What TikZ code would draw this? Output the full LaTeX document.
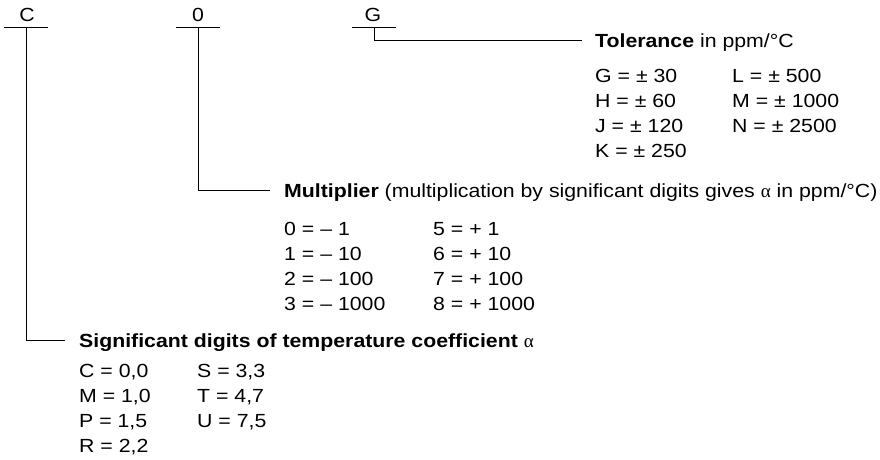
\documentclass[tikz,border=0pt]{standalone}
\usepackage{fontspec}
\setmainfont{Liberation Sans}[FakeStretch=1.12]
\newfontfamily\greekf{Liberation Serif}
\newcommand{\alphachar}{{\mdseries\greekf α}}
\begin{document}
\begin{tikzpicture}[x=1pt,y=-1pt,
  txt/.style={inner sep=0pt,anchor=base west,font=\fontsize{19}{25}\selectfont},
  toplabel/.style={inner sep=0pt,anchor=base,font=\fontsize{19}{25}\selectfont},
  bar/.style={line width=1pt},
  conn/.style={line width=1pt}]
\path[use as bounding box] (0,0) rectangle (880,459);

% top labels and bars
\node[toplabel] (lC) at (27,21) {C};
\node[toplabel] (l0) at (198,21) {0};
\node[toplabel] (lG) at (373,21) {G};
\draw[bar] (4,27) -- (48,27);
\draw[bar] (176,27) -- (220,27);
\draw[bar] (352,27) -- (396,27);
\coordinate (cC) at (26,27);
\coordinate (c0) at (198,27);
\coordinate (cG) at (374,27);

% Tolerance block
\node[txt] (tol) at (595,47) {\textbf{Tolerance} in ppm/°C};
\node[txt] (toltab) at (595,82) {\begin{tabular}[t]{@{}p{137pt}@{}l@{}}
G = ± 30 & L = ± 500\\
H = ± 60 & M = ± 1000\\
J = ± 120 & N = ± 2500\\
K = ± 250 &
\end{tabular}};

% Multiplier block
\node[txt] (mul) at (284,197) {\textbf{Multiplier} (multiplication by significant digits gives \alphachar{} in ppm/°C)};
\node[txt] (multab) at (284,235) {\begin{tabular}[t]{@{}p{149pt}@{}l@{}}
0 = – 1 & 5 = + 1\\
1 = – 10 & 6 = + 10\\
2 = – 100 & 7 = + 100\\
3 = – 1000 & 8 = + 1000
\end{tabular}};

% Significant digits block
\node[txt] (sig) at (79,347) {\textbf{Significant digits of temperature coefficient} \alphachar};
\node[txt] (sigtab) at (79,377) {\begin{tabular}[t]{@{}p{118pt}@{}l@{}}
C = 0,0 & S = 3,3\\
M = 1,0 & T = 4,7\\
P = 1,5 & U = 7,5\\
R = 2,2 &
\end{tabular}};

% connectors
\draw[conn] (cG) |- ([shift={(-13,-7)}]tol.base west);
\draw[conn] (c0) |- ([shift={(-14,-7)}]mul.base west);
\draw[conn] (cC) |- ([shift={(-14,-7)}]sig.base west);
\end{tikzpicture}
\end{document}
